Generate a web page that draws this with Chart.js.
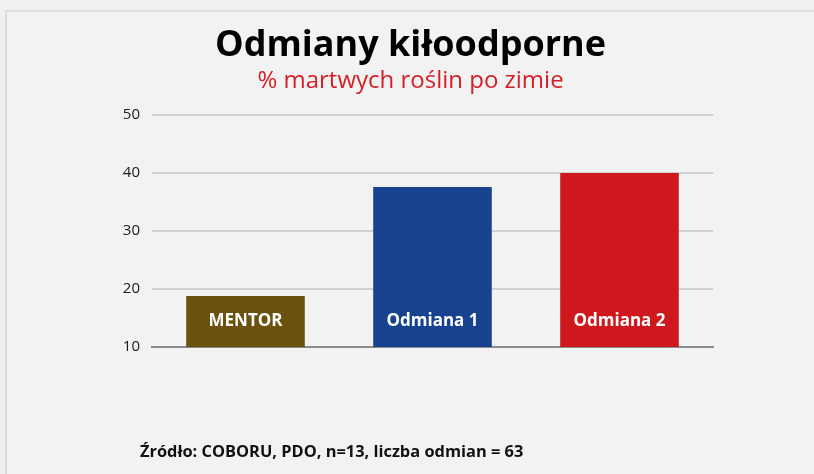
<!DOCTYPE html>
<html>
<head>
<meta charset="utf-8">
<script src="https://cdn.jsdelivr.net/npm/chart.js@4"></script>
<style>
  html, body { margin: 0; padding: 0; background: #f0f0f0; }
  #wrap {
    position: absolute; left: 5px; top: 10px;
    width: 807px; height: 462px;
    border-left: 2px solid #dcdcdc; border-top: 2px solid #dcdcdc;
    background: #f2f2f2;
  }
  canvas { display: block; }
</style>
</head>
<body>
<div id="wrap"><canvas id="chart" width="807" height="462"></canvas></div>
<script>
const categories = ['MENTOR', 'Odmiana 1', 'Odmiana 2'];
const deadPlants = [18.8, 37.6, 40];
const barColors = ['#6b510c', '#17428f', '#cf181d'];
const yTicks = [10, 20, 30, 40, 50];
const sourceNote = 'Źródło: COBORU, PDO, n=13, liczba odmian = 63';

const fontName = '"Open Sans", "Noto Sans", sans-serif';

// category names written inside the bars, plus the source line
const barText = {
  id: 'barText',
  afterDatasetsDraw(chart) {
    const ctx = chart.ctx;
    const meta = chart.getDatasetMeta(0);
    const bottom = chart.scales.y.getPixelForValue(10);
    ctx.save();
    ctx.fillStyle = '#ffffff';
    ctx.font = 'bold 17px ' + fontName;
    ctx.textAlign = 'center';
    ctx.textBaseline = 'middle';
    meta.data.forEach((bar, i) => {
      ctx.fillText(categories[i], bar.x, bottom - 26);
    });
    ctx.fillStyle = '#111111';
    ctx.font = 'bold 16.4px ' + fontName;
    ctx.textAlign = 'left';
    ctx.fillText(sourceNote, 133, 440);
    ctx.restore();
  }
};

const ctx = document.getElementById('chart').getContext('2d');

new Chart(ctx, {
  type: 'bar',
  data: {
    labels: categories,
    datasets: [{
      data: deadPlants,
      backgroundColor: barColors,
      barPercentage: 0.634,
      categoryPercentage: 1
    }]
  },
  options: {
    responsive: false,
    animation: false,
    layout: { padding: { left: 0, right: 0, top: 0, bottom: 127 } },
    plugins: {
      legend: { display: false },
      tooltip: { enabled: false },
      title: {
        display: true,
        text: 'Odmiany kiłoodporne',
        color: '#000000',
        font: { family: fontName, size: 36, weight: 'bold' },
        padding: { top: 12, bottom: 0 }
      },
      subtitle: {
        display: true,
        text: '% martwych roślin po zimie',
        color: '#d41f26',
        font: { family: fontName, size: 24 },
        padding: { top: 0, bottom: 19 }
      }
    },
    scales: {
      x: {
        grid: { display: false },
        border: { color: '#8c8c8c', width: 2 },
        ticks: { display: false },
        afterFit(scale) { scale.height = 0; }
      },
      y: {
        min: 10,
        max: 50,
        afterBuildTicks(scale) { scale.ticks = yTicks.map(v => ({ value: v })); },
        afterFit(scale) { scale.width = 145; },
        border: { display: false },
        grid: { color: '#d0d0d0', lineWidth: 2, drawTicks: false },
        ticks: {
          color: '#1a1a1a',
          padding: 12,
          font: { family: fontName, size: 15 }
        }
      },
      // empty right margin so the titles stay centred on the whole panel
      yRight: {
        position: 'right',
        display: true,
        grid: { display: false },
        border: { display: false },
        ticks: { display: false },
        afterFit(scale) { scale.width = 101; }
      }
    }
  },
  plugins: [barText]
});
</script>
</body>
</html>
